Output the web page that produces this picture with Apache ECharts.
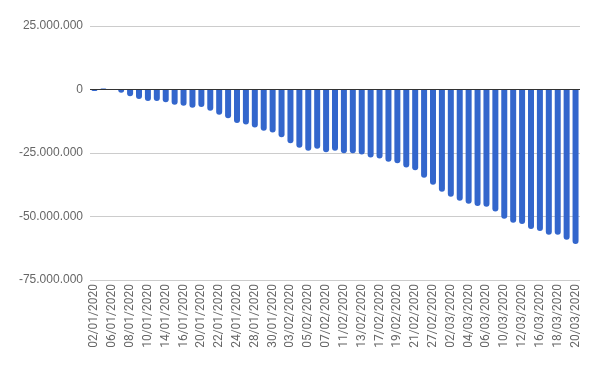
<!DOCTYPE html>
<html><head><meta charset="utf-8">
<script src="https://cdn.jsdelivr.net/npm/echarts@6/dist/echarts.min.js"></script>
<style>html,body{margin:0;padding:0;background:#fff}#c{width:600px;height:371px}</style>
</head><body><div id="c"></div>
<script>
const dates = ["02/01/2020","03/01/2020","06/01/2020","07/01/2020","08/01/2020","09/01/2020","10/01/2020","13/01/2020","14/01/2020","15/01/2020","16/01/2020","17/01/2020","20/01/2020","21/01/2020","22/01/2020","23/01/2020","24/01/2020","27/01/2020","28/01/2020","29/01/2020","30/01/2020","31/01/2020",
"03/02/2020","04/02/2020","05/02/2020","06/02/2020","07/02/2020","10/02/2020","11/02/2020","12/02/2020","13/02/2020","14/02/2020","17/02/2020","18/02/2020","19/02/2020","20/02/2020","21/02/2020","26/02/2020","27/02/2020","28/02/2020",
"02/03/2020","03/03/2020","04/03/2020","05/03/2020","06/03/2020","09/03/2020","10/03/2020","11/03/2020","12/03/2020","13/03/2020","16/03/2020","17/03/2020","18/03/2020","19/03/2020","20/03/2020"];
const values = [-600000,400000,-200000,-1300000,-2700000,-3700000,-4500000,-4500000,-5000000,-6000000,-6400000,-7200000,-6900000,-8400000,-9900000,-11300000,-13200000,-13800000,
-15000000,-16200000,-16900000,-18800000,-21200000,-22900000,-24100000,-23300000,-24700000,-24100000,-25100000,-25100000,-25600000,-26800000,-27200000,-28400000,-29000000,-30700000,
-31800000,-34700000,-37500000,-40300000,-42200000,-43800000,-45000000,-45900000,-46200000,-48000000,-50900000,-52500000,-53000000,-54900000,-55700000,-57200000,-57200000,-59200000,-60800000];
const yTicks = [-75000000,-50000000,-25000000,0,25000000];

function fmt(v){ const s=Math.abs(v).toString().replace(/\B(?=(\d{3})+(?!\d))/g,'.'); return (v<0?'-':'')+s; }

const chart = echarts.init(document.getElementById('c'));
chart.setOption({
  animation:false,
  grid:{left:90,right:20,top:26,bottom:91,containLabel:false},
  xAxis:{type:'category',data:dates,
    axisLine:{show:false,onZero:false},axisTick:{show:false},
    axisLabel:{interval:1,rotate:90,color:'#666',fontSize:12,fontFamily:'Roboto',margin:4}},
  yAxis:{type:'value',min:yTicks[0],max:yTicks[yTicks.length-1],interval:25000000,
    axisLine:{show:false},axisTick:{show:false},
    splitLine:{lineStyle:{color:'#cccccc',width:1}},
    axisLabel:{formatter:fmt,color:'#666',fontSize:12,fontFamily:'Arial, Liberation Sans',margin:7}},
  series:[{type:'bar',barWidth:6,
    data:values.map(v=>({value:v,itemStyle:{borderRadius:v<0?[0,0,3,3]:[3,3,0,0]}})),
    itemStyle:{color:'#3366cc'},
    markLine:{silent:true,symbol:'none',label:{show:false},lineStyle:{color:'#333',width:1,type:'solid'},data:[{yAxis:0}]}
  }]
});
</script></body></html>
